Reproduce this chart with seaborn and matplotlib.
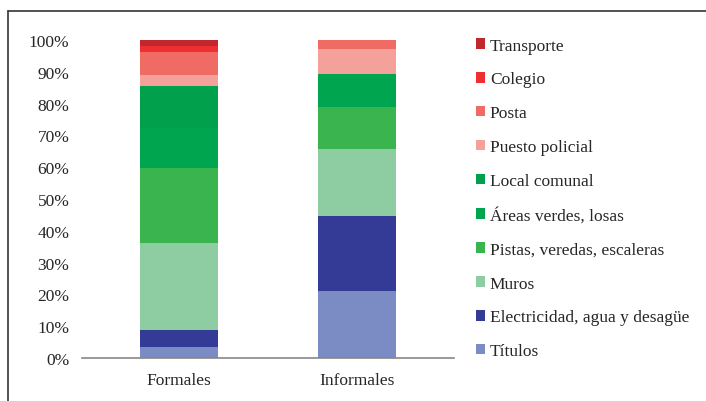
import matplotlib
matplotlib.use('Agg')
import matplotlib.pyplot as plt
import seaborn as sns
from matplotlib.lines import Line2D
from matplotlib.patches import Patch
from matplotlib.ticker import PercentFormatter

# Data (shares, bottom to top)
groups = ['Formales', 'Informales']
categories = ['Títulos', 'Electricidad, agua y desagüe', 'Muros',
              'Pistas, veredas, escaleras', 'Áreas verdes, losas',
              'Local comunal', 'Puesto policial', 'Posta', 'Colegio',
              'Transporte']
formales = [3.5, 5.4, 27.4, 23.5, 12.6, 13.0, 3.7, 7.2, 1.9, 1.8]
informales = [21.0, 23.5, 21.3, 13.1, 10.5, 0.0, 7.9, 2.7, 0.0, 0.0]
colors = ['#7B8BC4', '#343B96', '#8DCDA1', '#3AB44F', '#00A64F',
          '#00A04C', '#F4A09B', '#EF6B63', '#EE2E31', '#C1282D']

sns.set_style('white')
plt.rcParams['font.family'] = ['Liberation Serif', 'DejaVu Serif']

fig = plt.figure(figsize=(7.06, 4.02), dpi=100)
ax = fig.add_axes([0.116, 0.107, 0.527, 0.791])

bottom = [0.0, 0.0]
for cat, f, i, c in zip(categories, formales, informales, colors):
    vals = [f / 100, i / 100]
    sns.barplot(x=groups, y=vals, bottom=bottom, color=c, width=0.44,
                saturation=1, linewidth=0, ax=ax)
    bottom = [bottom[0] + vals[0], bottom[1] + vals[1]]

ax.set_ylim(0, 1)
ax.set_xlim(-0.545, 1.545)
ax.set_yticks([k / 10 for k in range(11)])
ax.yaxis.set_major_formatter(PercentFormatter(1.0, decimals=0))
ax.tick_params(axis='y', length=0, pad=9, labelsize=12.5)
ax.tick_params(axis='x', length=0, pad=10, labelsize=12.5)
ax.set_xlabel('')
ax.set_ylabel('')
for s in ['top', 'right', 'left']:
    ax.spines[s].set_visible(False)
ax.spines['bottom'].set_color('#888888')
ax.spines['bottom'].set_linewidth(1.2)

handles = [Patch(facecolor=c, edgecolor='none') for c in colors[::-1]]
leg = fig.legend(handles, categories[::-1], loc='upper left',
                 bbox_to_anchor=(0.652, 0.943), frameon=False,
                 fontsize=12.5, handlelength=0.55, handleheight=0.55,
                 handletextpad=0.25, labelspacing=1.03)

# outer frame (left and top edges)
fig.add_artist(Line2D([8 / 706, 8 / 706], [0, 1 - 12 / 402],
                      color='#333333', linewidth=1.2))
fig.add_artist(Line2D([8 / 706, 1], [1 - 12 / 402, 1 - 12 / 402],
                      color='#333333', linewidth=1.2))

fig.savefig('out.png', dpi=100)
